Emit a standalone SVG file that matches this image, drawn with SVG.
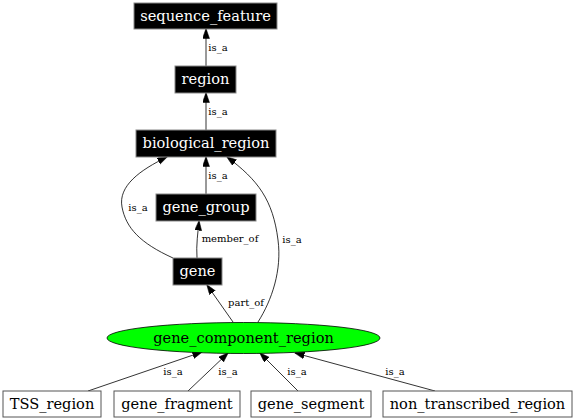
<svg xmlns="http://www.w3.org/2000/svg" width="576" height="420" viewBox="0 0 576 420">
<style>
.dark rect{fill:#000;stroke:#888;stroke-width:1}
.dark text{fill:#fff;font-family:"DejaVu Serif",serif;font-size:14.6px;text-anchor:middle}
.light rect{fill:#fff;stroke:#555;stroke-width:1}
.light text{fill:#000;font-family:"DejaVu Serif",serif;font-size:14.6px;text-anchor:middle}
.edges path{fill:none;stroke:#000;stroke-width:0.8;marker-end:url(#arr)}
.edges text{font-family:"DejaVu Serif",serif;font-size:10px;fill:#000;text-anchor:middle}
</style>
<defs>
<marker id="arr" markerWidth="10" markerHeight="8" refX="9.5" refY="3.5" orient="auto" markerUnits="userSpaceOnUse">
<path d="M0,0 L10,3.5 L0,7 Z" fill="#000" stroke="#000" stroke-width="0.5"/>
</marker>
</defs>
<rect width="576" height="420" fill="#fff"/>
<g class="edges" id="edges">
<path d="M206,66 L206,29"/>
<text x="218" y="51">is_a</text>
<path d="M206,130 L206,93"/>
<text x="218" y="115">is_a</text>
<path d="M206,194 L206,157"/>
<text x="218" y="179">is_a</text>
<path d="M197,258 C196,245 198,232 199,221"/>
<text x="230" y="242">member_of</text>
<path d="M173,258 C140,243 126,228 122,207 C118,186 140,170 167,157"/>
<text x="138" y="211">is_a</text>
<path d="M233,322 L207,285"/>
<text x="246" y="306">part_of</text>
<path d="M258,322 C272,300 282,270 278,240 C273,200 258,180 227,157"/>
<text x="292" y="243">is_a</text>
<path d="M88,391 L202,352"/>
<text x="173" y="375">is_a</text>
<path d="M188,391 L228,353"/>
<text x="228" y="375">is_a</text>
<path d="M298,391 L260,353"/>
<text x="297" y="375">is_a</text>
<path d="M435,391 L295,353"/>
<text x="395" y="375">is_a</text>
</g>
<g id="sequence_feature" class="dark"><rect x="134" y="3" width="143" height="26"/><text x="205.5" y="21">sequence_feature</text></g>
<g id="region" class="dark"><rect x="175" y="66" width="61" height="27"/><text x="205.5" y="84">region</text></g>
<g id="biological_region" class="dark"><rect x="136" y="130" width="140" height="27"/><text x="206" y="148">biological_region</text></g>
<g id="gene_group" class="dark"><rect x="156" y="194" width="100" height="27"/><text x="206" y="212">gene_group</text></g>
<g id="gene" class="dark"><rect x="173" y="258" width="49" height="27"/><text x="197.5" y="276">gene</text></g>
<g id="gene_component_region"><ellipse cx="243.5" cy="338" rx="136.5" ry="15.5" fill="#00ff00" stroke="#000" stroke-width="0.8"/><text x="243.5" y="343" font-family="DejaVu Serif, serif" font-size="14.6" text-anchor="middle" fill="#000">gene_component_region</text></g>
<g id="TSS_region" class="light"><rect x="3" y="391" width="98" height="26"/><text x="52" y="409">TSS_region</text></g>
<g id="gene_fragment" class="light"><rect x="114" y="391" width="126" height="26"/><text x="177" y="409">gene_fragment</text></g>
<g id="gene_segment" class="light"><rect x="251" y="391" width="120" height="26"/><text x="311" y="409">gene_segment</text></g>
<g id="non_transcribed_region" class="light"><rect x="383" y="391" width="189" height="26"/><text x="477.5" y="409">non_transcribed_region</text></g>
</svg>
